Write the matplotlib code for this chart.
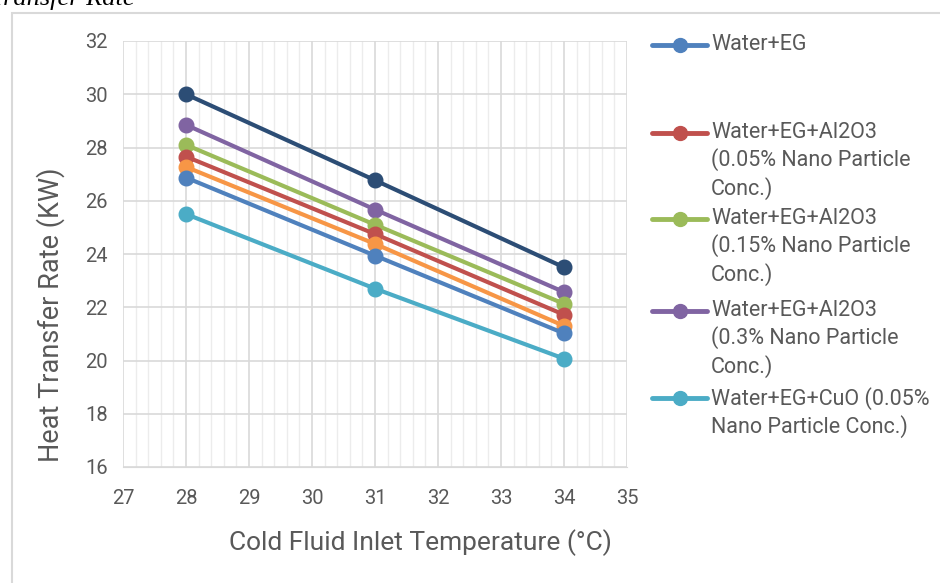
import numpy as np
import matplotlib.pyplot as plt
from matplotlib.lines import Line2D
from matplotlib.patches import Rectangle
from matplotlib.ticker import MultipleLocator

temps = [28, 31, 34]
navy = [30.0, 26.77, 23.5]
purple = [28.85, 25.67, 22.57]
green = [28.1, 25.1, 22.13]
red = [27.66, 24.75, 21.72]
orange = [27.27, 24.38, 21.3]
blue = [26.87, 23.94, 21.02]
cyan = [25.5, 22.7, 20.07]

labels = ["Water+EG",
          "Water+EG+Al2O3\n(0.05% Nano Particle\nConc.)",
          "Water+EG+Al2O3\n(0.15% Nano Particle\nConc.)",
          "Water+EG+Al2O3\n(0.3% Nano Particle\nConc.)",
          "Water+EG+CuO (0.05%\nNano Particle Conc.)"]

txt = "#595959"
plt.rcParams['font.family'] = ['Roboto', 'DejaVu Sans']

W, H = 940, 583
fig = plt.figure(figsize=(W / 100, H / 100), dpi=100)
ax = fig.add_axes([123 / W, 1 - 467 / H, 504 / W, 426 / H])

# chart border and clipped caption
fig.patches.append(Rectangle((12 / W, -0.1), 1.2, 1 - 13 / H + 0.1,
                             transform=fig.transFigure, fill=False,
                             edgecolor="#d9d9d9", lw=1.5))
fig.text(-10 / W, 1 - 5 / H, "Transfer Rate", family="Liberation Serif",
         style="italic", fontsize=19, va="baseline", color="black")

kw = dict(lw=3, marker="o", ms=10.5, solid_capstyle="round")
l_navy, = ax.plot(temps, navy, color="#2c4d75", **kw)
l_purple, = ax.plot(temps, purple, color="#8064a2", **kw)
l_green, = ax.plot(temps, green, color="#9bbb59", **kw)
l_red, = ax.plot(temps, red, color="#c0504d", **kw)
l_orange, = ax.plot(temps, orange, color="#f79646", **kw)
l_blue, = ax.plot(temps, blue, color="#4f81bd", **kw)
l_cyan, = ax.plot(temps, cyan, color="#4bacc6", **kw)

ax.set_xlim(27, 35)
ax.set_ylim(16, 32)
ax.xaxis.set_major_locator(MultipleLocator(1))
ax.xaxis.set_minor_locator(MultipleLocator(0.2))
ax.yaxis.set_major_locator(MultipleLocator(2))
ax.grid(which="major", color="#d9d9d9", lw=1.2)
ax.grid(which="minor", axis="x", color="#ececec", lw=1)
ax.set_axisbelow(True)
for s in ["top", "right", "left"]:
    ax.spines[s].set_visible(False)
ax.spines["bottom"].set_color("#d9d9d9")
ax.tick_params(which="both", length=0, labelsize=14.5, colors=txt)
ax.tick_params(axis="x", pad=16)
ax.tick_params(axis="y", pad=11)

ax.set_xlabel("Cold Fluid Inlet Temperature (°C)", fontsize=19, color=txt,
              labelpad=16)
ax.xaxis.set_label_coords(0.591, -0.145)
ax.set_ylabel("Heat Transfer Rate (KW)", fontsize=19.5, color=txt)
ax.yaxis.set_label_coords(-0.115, 0.357)

# legend drawn by hand so the key sits on the first line of each label
entries = [(l_blue, labels[0], 45), (l_red, labels[1], 133),
           (l_green, labels[2], 219), (l_purple, labels[3], 311),
           (l_cyan, labels[4], 398)]
for line, lab, ypx in entries:
    yf = 1 - ypx / H
    fig.add_artist(Line2D([652 / W, 707 / W], [yf, yf], transform=fig.transFigure,
                          color=line.get_color(), lw=3.5, solid_capstyle="round"))
    fig.add_artist(Line2D([680 / W], [yf], transform=fig.transFigure,
                          color=line.get_color(), marker="o", ms=10))
    fig.text(711 / W, yf + 11 / H, lab, fontsize=15.5, color=txt, va="top",
             linespacing=1.3)

fig.savefig("out.png", dpi=100)
